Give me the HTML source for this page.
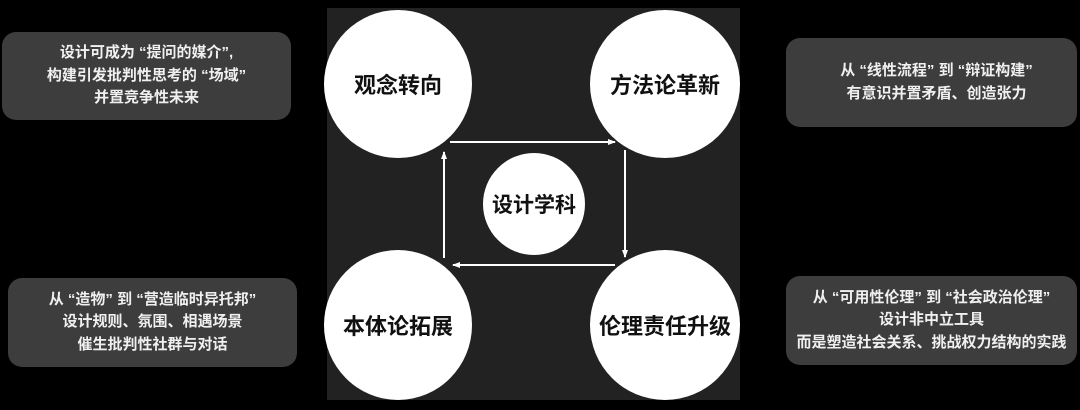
<!DOCTYPE html>
<html><head><meta charset="utf-8"><style>
body{margin:0;width:1080px;height:410px;background:#000;position:relative;overflow:hidden;font-family:"Liberation Sans","Noto Sans CJK SC",sans-serif;}
.box{position:absolute;background:#3d3d3d;border-radius:14px;color:#f0f0f0;font-size:15px;font-weight:bold;line-height:22.5px;text-align:center;display:flex;flex-direction:column;justify-content:center;}
.sq{position:absolute;left:327px;top:8px;width:413px;height:392px;background:#222;}
.c{position:absolute;background:#fff;border-radius:50%;display:flex;align-items:center;justify-content:center;font-size:22px;font-weight:bold;color:#111;}
</style></head><body>
<div class="box" style="left:2px;top:32px;width:289px;height:88px;">设计可成为 “提问的媒介”,<br>构建引发批判性思考的 “场域”<br>并置竞争性未来</div>
<div class="box" style="left:8px;top:278px;width:289px;height:89px;">从 “造物” 到 “营造临时异托邦”<br>设计规则、氛围、相遇场景<br>催生批判性社群与对话</div>
<div class="box" style="left:786px;top:38px;width:291px;height:89px;padding-left:10px;box-sizing:border-box;">从 “线性流程” 到 “辩证构建”<br>有意识并置矛盾、创造张力</div>
<div class="box" style="left:786px;top:276px;width:291px;height:89px;">从 “可用性伦理” 到 “社会政治伦理”<br>设计非中立工具<br>而是塑造社会关系、挑战权力结构的实践</div>
<div class="sq"></div>
<svg style="position:absolute;left:0;top:0" width="1080" height="410">
<defs><marker id="a" markerWidth="8" markerHeight="8" refX="7" refY="4" orient="auto" markerUnits="userSpaceOnUse"><path d="M0,1 L8,4 L0,7 z" fill="#fff"/></marker></defs>
<g stroke="#fff" stroke-width="2" fill="none">
<line x1="450" y1="142" x2="615" y2="142" marker-end="url(#a)"/>
<line x1="625" y1="150" x2="625" y2="257" marker-end="url(#a)"/>
<line x1="615" y1="265" x2="453" y2="265" marker-end="url(#a)"/>
<line x1="444" y1="258" x2="444" y2="152" marker-end="url(#a)"/>
</g></svg>
<div class="c" style="left:324px;top:10px;width:148px;height:148px;">观念转向</div>
<div class="c" style="left:590px;top:10px;width:150px;height:148px;">方法论革新</div>
<div class="c" style="left:324px;top:250px;width:148px;height:150px;">本体论拓展</div>
<div class="c" style="left:590px;top:250px;width:150px;height:150px;">伦理责任升级</div>
<div class="c" style="left:483px;top:153px;width:102px;height:102px;font-size:21px;">设计学科</div>
</body></html>
